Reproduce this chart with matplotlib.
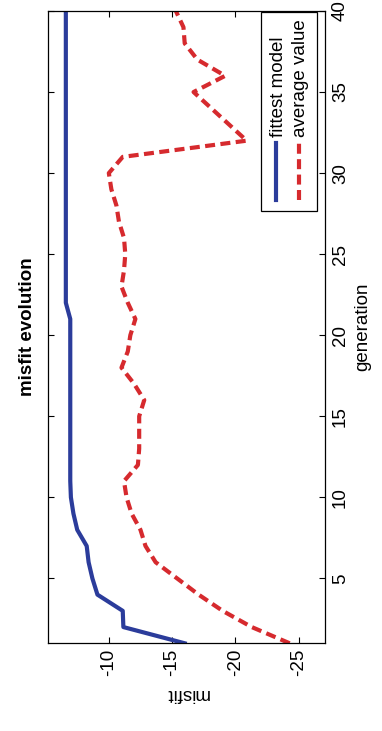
import matplotlib
matplotlib.use("Agg")
import matplotlib.pyplot as plt
from matplotlib.patches import Rectangle

# data (figure is drawn rotated: generation runs bottom->top, misfit runs left->right decreasing)
generation = list(range(1, 41))
fittest = [-16.0, -11.15, -11.1, -9.1, -8.7, -8.4, -8.25, -7.5, -7.2, -7.0,
           -6.95, -6.95, -6.95, -6.95, -6.95, -6.95, -6.95, -6.95, -6.95, -6.95,
           -6.95, -6.6, -6.6, -6.6, -6.6, -6.6, -6.6, -6.6, -6.6, -6.6,
           -6.6, -6.6, -6.6, -6.6, -6.6, -6.6, -6.6, -6.6, -6.6, -6.6]
average = [-24.3, -21.3, -19.0, -17.1, -15.4, -13.7, -12.9, -12.5, -11.8, -11.4,
           -11.2, -12.3, -12.4, -12.4, -12.4, -12.8, -12.0, -11.0, -11.5, -11.7,
           -12.1, -11.5, -11.0, -11.2, -11.3, -11.2, -10.8, -10.6, -10.2, -10.0,
           -11.1, -20.9, -19.5, -18.1, -16.7, -19.2, -17.0, -16.0, -15.9, -15.3]
misfit_ticks = [-10, -15, -20, -25]
gen_ticks = [5, 10, 15, 20, 25, 30, 35, 40]
legend_labels = ["fittest model", "average value"]

BLUE = "#2b3c9b"
RED = "#d62a2e"
FS = 13.5

plt.rcParams["font.family"] = ["Liberation Sans", "DejaVu Sans"]
plt.rcParams["axes.unicode_minus"] = False

fig = plt.figure(figsize=(3.82, 7.31), dpi=100)
ax = fig.add_axes([0.126, 0.120, 0.725, 0.865])

ax.plot(fittest, generation, color=BLUE, lw=3.0)
ax.plot(average, generation, color=RED, lw=3.0, linestyle=(0, (2.4, 1.3)))

ax.set_xlim(-5.2, -27.1)
ax.set_ylim(1, 40)
ax.set_xticks(misfit_ticks)
ax.set_yticks(gen_ticks)
ax.tick_params(axis="both", direction="in", length=4, width=0.8,
               top=True, bottom=True, left=True, right=True,
               labelleft=False, labelright=True, labelsize=FS)
ax.tick_params(axis="x", labelrotation=90, pad=4)
ax.tick_params(axis="y", labelrotation=90, pad=5)
for lab in ax.get_yticklabels():
    lab.set_verticalalignment("center")

ax.set_xlabel("misfit", fontsize=FS, rotation=180, labelpad=6)
ax.yaxis.set_label_position("right")
ax.set_ylabel("generation", fontsize=FS, rotation=90, labelpad=4)
for s in ax.spines.values():
    s.set_linewidth(0.9)

fig.text(0.071, 0.5525, "misfit evolution", rotation=90, ha="center", va="center",
         fontsize=FS, fontweight="bold")

# legend built by hand so it can be rotated with the rest of the chart
ax.add_patch(Rectangle((0.769, 0.684), 0.202, 0.314, transform=ax.transAxes,
                       facecolor="white", edgecolor="black", lw=0.9, zorder=5))
ax.plot([0.823, 0.823], [0.701, 0.791], transform=ax.transAxes, color=BLUE, lw=3.0, zorder=6)
ax.plot([0.905, 0.905], [0.701, 0.791], transform=ax.transAxes, color=RED, lw=3.0,
        linestyle=(0, (2.4, 1.3)), zorder=6)
ax.text(0.830, 0.800, legend_labels[0], transform=ax.transAxes, rotation=90,
        ha="center", va="bottom", fontsize=FS, zorder=7)
ax.text(0.912, 0.800, legend_labels[1], transform=ax.transAxes, rotation=90,
        ha="center", va="bottom", fontsize=FS, zorder=7)

fig.savefig("out.png", dpi=100)
